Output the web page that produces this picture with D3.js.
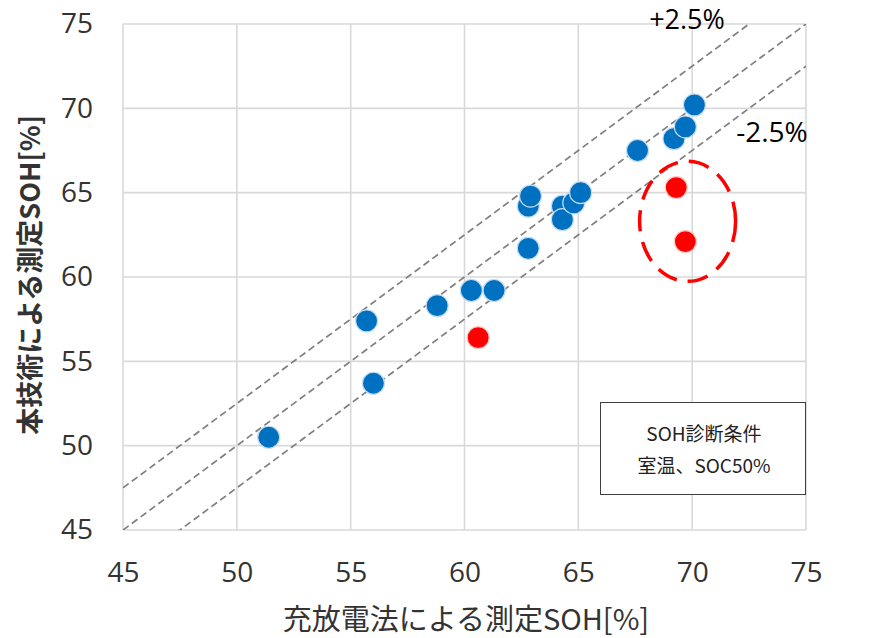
<!DOCTYPE html>
<html><head><meta charset="utf-8">
<script src="https://cdn.jsdelivr.net/npm/d3@7"></script>
<style>body{margin:0;background:#fff}svg{display:block}</style>
</head><body>
<script>
const blueX = [51.4,55.7,56.0,58.8,60.3,61.3,62.8,62.8,62.9,64.3,64.3,64.8,65.1,67.6,69.2,69.7,70.1];
const blueY = [50.5,57.4,53.7,58.3,59.2,59.2,61.7,64.2,64.8,64.2,63.4,64.4,65.0,67.5,68.2,68.9,70.2];
const redX = [60.6,69.3,69.7];
const redY = [56.4,65.3,62.1];
const ticks = [45,50,55,60,65,70,75];
const bandOffsets = [2.5,0,-2.5];
const bandLabels = ["+2.5%","-2.5%"];
const xTitle = "充放電法による測定SOH[%]";
const yTitle = "本技術による測定SOH[%]";
const noteLines = ["SOH診断条件","室温、SOC50%"];

const W=874,H=638;
const svg=d3.select("body").append("svg").attr("width",W).attr("height",H);
const x=d3.scaleLinear().domain([45,75]).range([123,806]);
const y=d3.scaleLinear().domain([45,75]).range([530,24]);
const font="'Open Sans','Noto Sans CJK JP',sans-serif";
const cjk="'Noto Sans CJK JP',sans-serif";

// grid
const g=svg.append("g");
g.selectAll("line.v").data(ticks).join("line")
 .attr("x1",d=>x(d)).attr("x2",d=>x(d)).attr("y1",y(45)).attr("y2",y(75))
 .attr("stroke","#d9d9d9").attr("stroke-width",1.6);
g.selectAll("line.h").data(ticks).join("line")
 .attr("y1",d=>y(d)).attr("y2",d=>y(d)).attr("x1",x(45)).attr("x2",x(75))
 .attr("stroke","#d9d9d9").attr("stroke-width",1.6);

// axes labels via d3 axes
const xa=svg.append("g").attr("transform",`translate(0,${y(45)})`)
 .call(d3.axisBottom(x).tickValues(ticks).tickSize(0).tickPadding(32));
xa.select(".domain").remove();
xa.selectAll("text").attr("font-family",font).attr("font-size",28).attr("fill","#333");
const ya=svg.append("g").attr("transform",`translate(${x(45)},0)`)
 .call(d3.axisLeft(y).tickValues(ticks).tickSize(0).tickPadding(30));
ya.select(".domain").remove();
ya.selectAll("text").attr("font-family",font).attr("font-size",28).attr("fill","#333");

// dashed lines
svg.append("defs").append("clipPath").attr("id","clip").append("rect")
 .attr("x",x(45)).attr("y",y(75)).attr("width",x(75)-x(45)).attr("height",y(45)-y(75));
svg.append("g").attr("clip-path","url(#clip)").selectAll("line").data(bandOffsets).join("line")
 .attr("x1",x(45)).attr("y1",d=>y(45+d)).attr("x2",x(75)).attr("y2",d=>y(75+d))
 .attr("stroke","#7f7f7f").attr("stroke-width",1.7).attr("stroke-dasharray","7,4");

// points
const pts=svg.append("g");
pts.selectAll("circle.b").data(blueX.map((v,i)=>[v,blueY[i]])).join("circle")
 .attr("cx",d=>x(d[0])).attr("cy",d=>y(d[1])).attr("r",11)
 .attr("fill","#0070c0").attr("stroke","#c4dcf2").attr("stroke-width",1.2);
pts.selectAll("circle.r").data(redX.map((v,i)=>[v,redY[i]])).join("circle")
 .attr("cx",d=>x(d[0])).attr("cy",d=>y(d[1])).attr("r",11)
 .attr("fill","#ff0000").attr("stroke","#ffcccc").attr("stroke-width",1.2);

// ellipse
svg.append("ellipse").attr("cx",x(69.8)).attr("cy",y(63.3)).attr("rx",48).attr("ry",60)
 .attr("fill","none").attr("stroke","#ff0000").attr("stroke-width",3.5).attr("stroke-dasharray","21,11");

// band labels
svg.append("text").attr("x",687).attr("y",29).attr("text-anchor","middle")
 .attr("font-family",font).attr("font-size",27).attr("fill","#000").text(bandLabels[0]);
svg.append("text").attr("x",772).attr("y",142).attr("text-anchor","middle")
 .attr("font-family",font).attr("font-size",28).attr("fill","#000").text(bandLabels[1]);

// note box
svg.append("rect").attr("x",600.5).attr("y",402.5).attr("width",205).attr("height",92)
 .attr("fill","#fff").attr("stroke","#404040").attr("stroke-width",1);
svg.selectAll("text.note").data(noteLines).join("text")
 .attr("x",704).attr("y",(d,i)=>441+i*32).attr("text-anchor","middle")
 .attr("font-family",cjk).attr("font-size",19).attr("fill","#222").text(d=>d);

// titles
svg.append("text").attr("x",466).attr("y",630).attr("text-anchor","middle")
 .attr("font-family",cjk).attr("font-size",29).attr("fill","#333").text(xTitle);
svg.append("text").attr("transform",`translate(40,275) rotate(-90)`).attr("text-anchor","middle")
 .attr("font-family",cjk).attr("font-size",27).attr("font-weight","bold").attr("fill","#333").text(yTitle);
</script>
</body></html>
